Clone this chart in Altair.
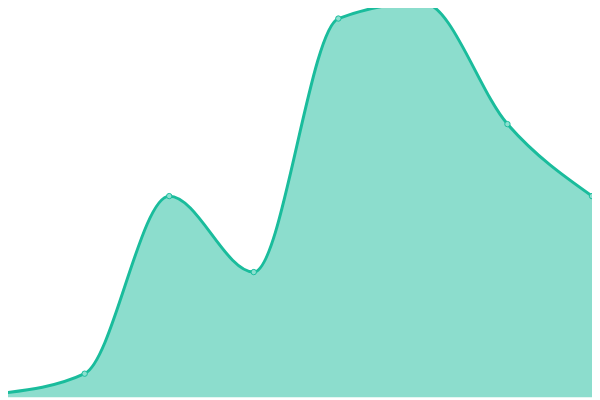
import altair as alt
import pandas as pd

idx = [0, 1, 2, 3, 4, 5, 6, 7]
values = [1, 6, 51, 31.75, 96, 100, 69.25, 51]

df = pd.DataFrame({"i": idx, "v": values})

x = alt.X("i:Q", axis=None, scale=alt.Scale(domain=[0, 7], nice=False, zero=False))
y = alt.Y("v:Q", axis=None, scale=alt.Scale(domain=[0, 100], nice=False))

base = alt.Chart(df)
area = base.mark_area(interpolate="monotone", color="#1abc9c", opacity=0.5).encode(x=x, y=y)
line = base.mark_line(interpolate="monotone", color="#1abc9c", strokeWidth=3).encode(x=x, y=y)
pts = base.mark_point(filled=True, fill="#8ce0d0", stroke="#1abc9c", strokeWidth=1, opacity=1, size=30).encode(x=x, y=y)

chart = alt.layer(area, line, pts).properties(
    width=600, height=400,
    autosize=alt.AutoSizeParams(type="none"),
    padding={"left": -8, "top": -8, "right": 0, "bottom": 0},
).configure_view(stroke=None)

chart.save("out.html", embed_options={"renderer": "svg", "actions": False})
